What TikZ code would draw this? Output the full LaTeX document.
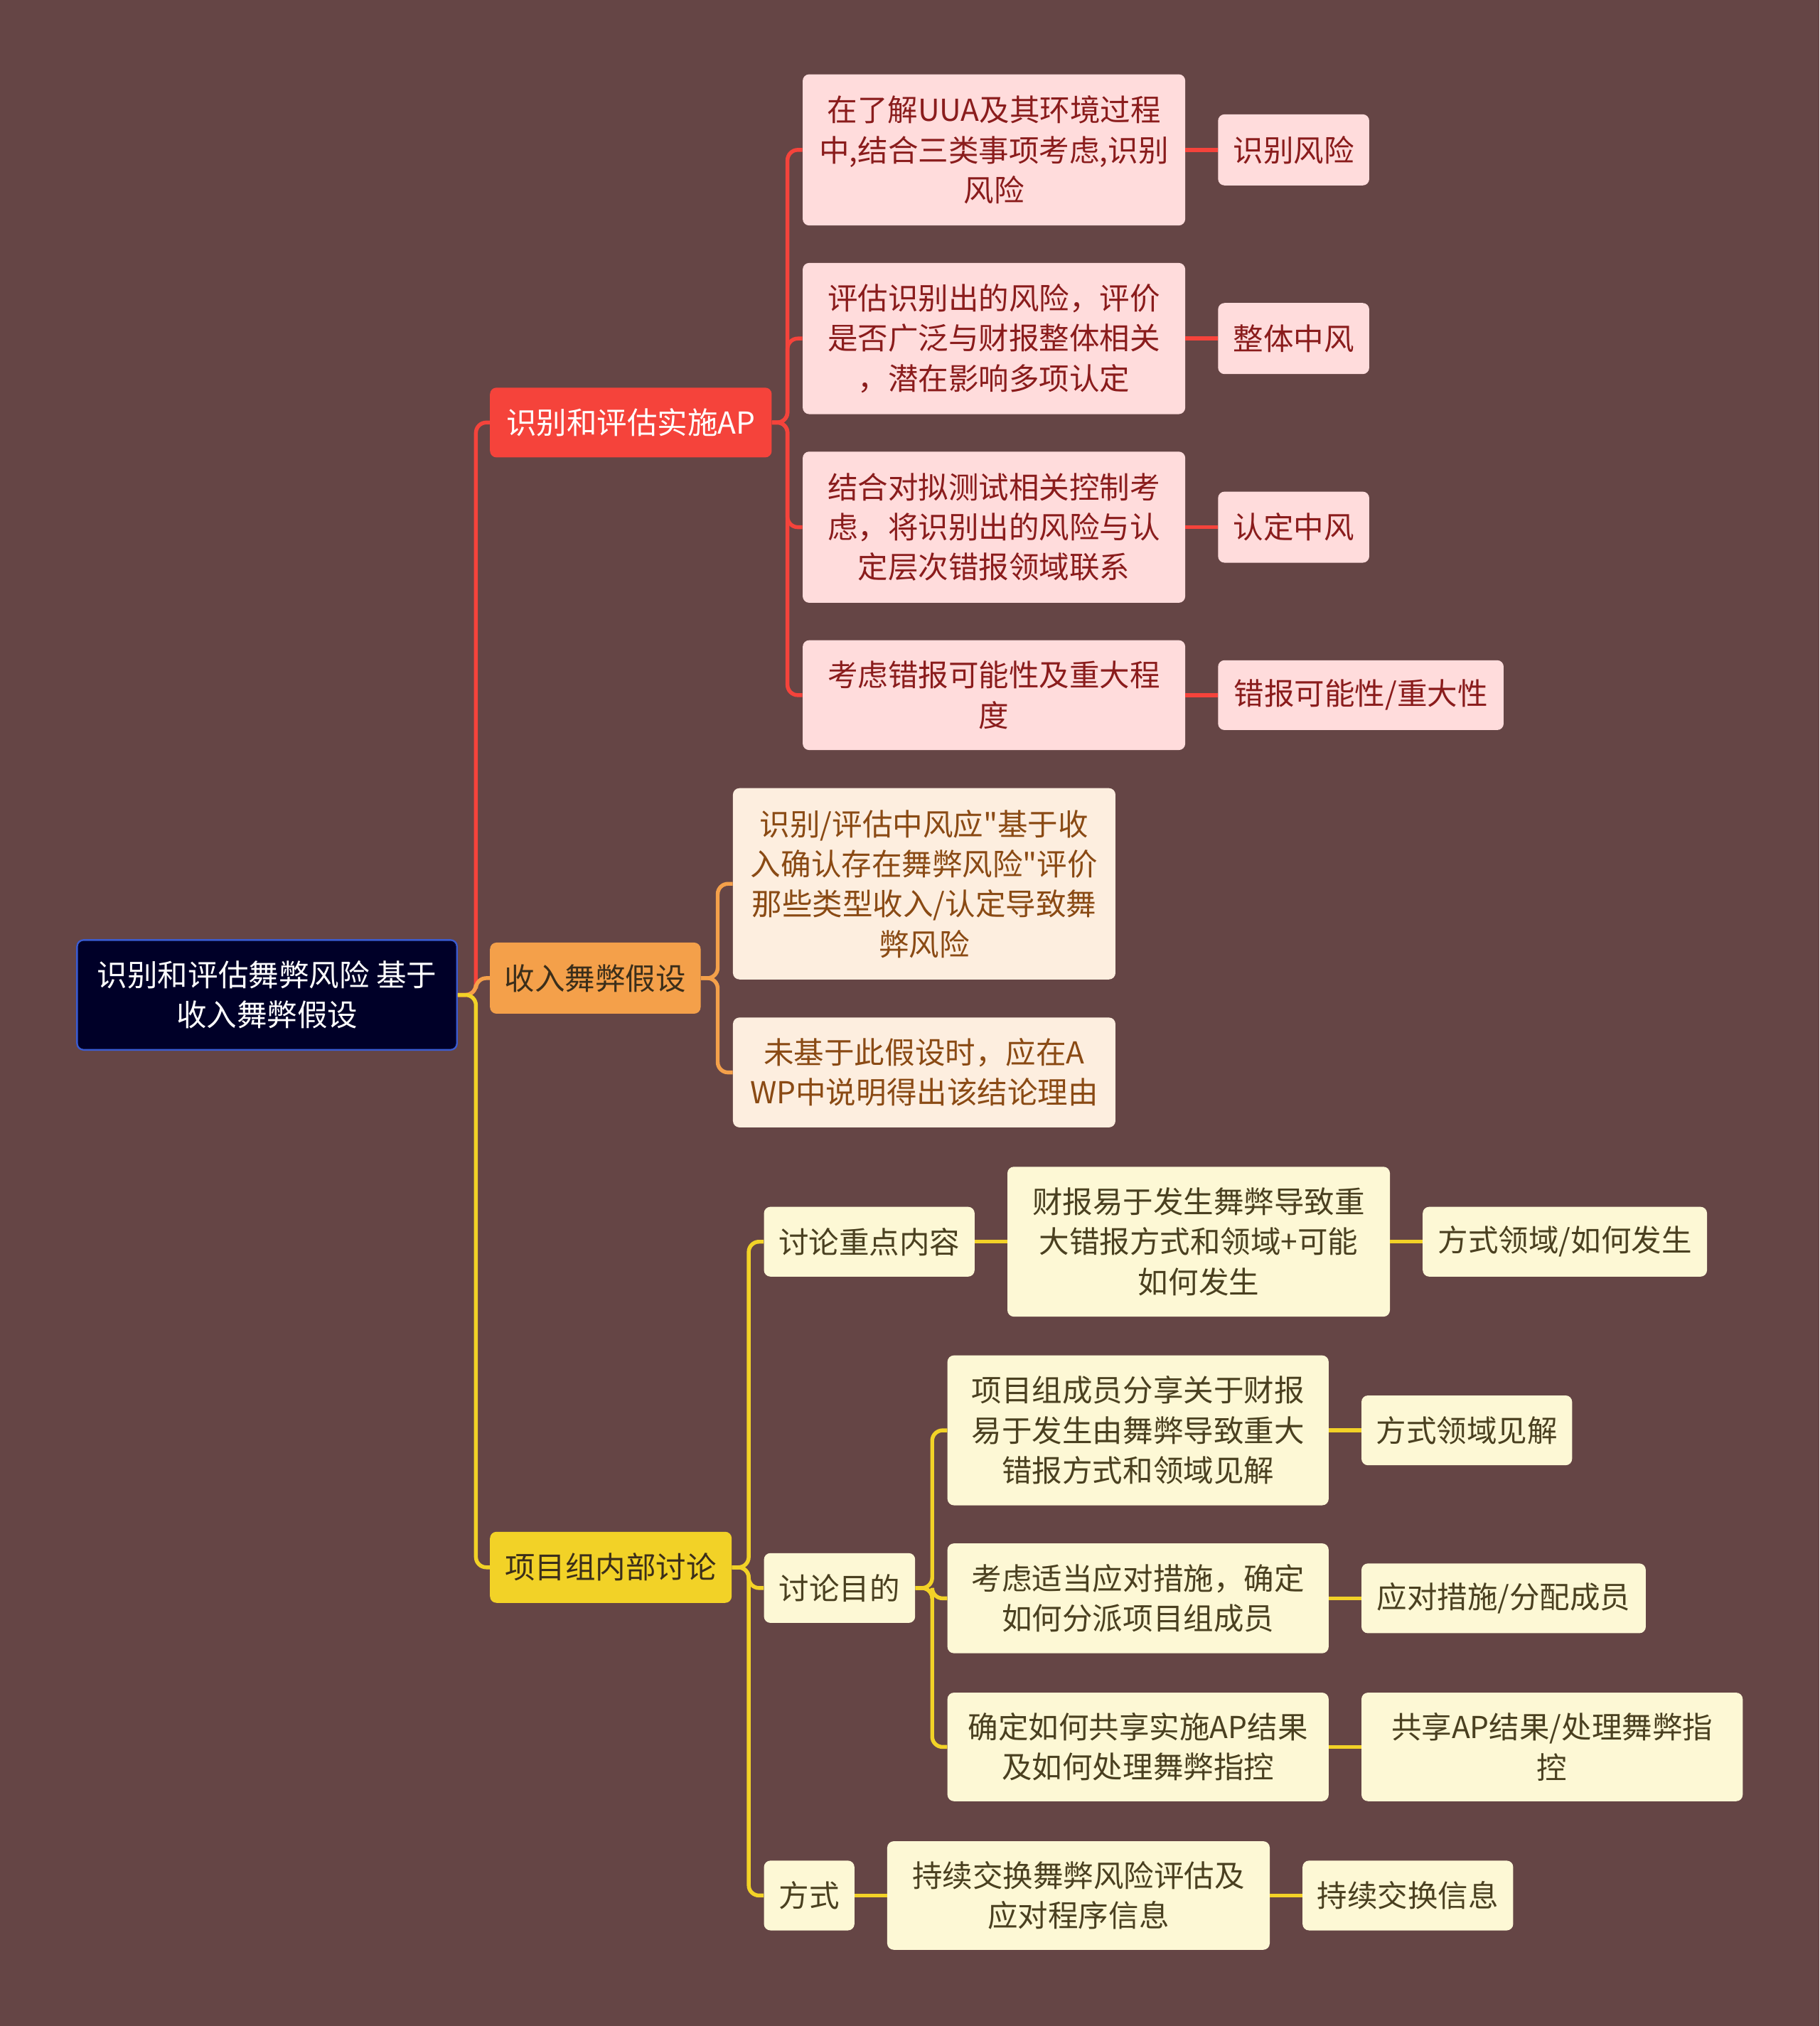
\documentclass[tikz,border=0pt]{standalone}
\usepackage{fontspec}
\setmainfont{Noto Sans CJK SC}
\newfontfamily\mapcjk{Noto Sans CJK SC}
\usetikzlibrary{positioning}
\definecolor{mmBg}{HTML}{654545}
\definecolor{mmRootFill}{HTML}{000028}
\definecolor{mmRootLine}{HTML}{3A5BD0}
\definecolor{mmRed}{HTML}{F5433B}
\definecolor{mmRedSoft}{HTML}{FFDCDC}
\definecolor{mmRedInk}{HTML}{8A1C1C}
\definecolor{mmOrange}{HTML}{F4A04A}
\definecolor{mmOrangeSoft}{HTML}{FDEEDF}
\definecolor{mmOrangeInk}{HTML}{8A4A14}
\definecolor{mmYellow}{HTML}{F2D227}
\definecolor{mmYellowSoft}{HTML}{FDF8D5}
\definecolor{mmYellowInk}{HTML}{4A4020}
\definecolor{mmDarkInk}{HTML}{3B2E1A}
\newcommand\mapfont{\mapcjk\fontsize{23.4pt}{31pt}\selectfont}
\tikzset{
  sz/.style 2 args={minimum width=#1pt, minimum height=#2pt},
  box/.style={rounded corners=5pt, align=center, inner sep=0pt, font=\mapfont},
  rootbox/.style={box, fill=mmRootFill, draw=mmRootLine, line width=1.3pt, text=white},
  brR/.style={box, fill=mmRed, text=white},
  brO/.style={box, fill=mmOrange, text=mmDarkInk},
  brY/.style={box, fill=mmYellow, text=mmDarkInk},
  subR/.style={box, fill=mmRedSoft, text=mmRedInk},
  subO/.style={box, fill=mmOrangeSoft, text=mmOrangeInk},
  subY/.style={box, fill=mmYellowSoft, text=mmYellowInk},
  lnk/.style={line width=3pt, rounded corners=8pt},
  lnR/.style={lnk, draw=mmRed},
  lnO/.style={lnk, draw=mmOrange},
  lnY/.style={lnk, draw=mmYellow},
}
\begin{document}
\begin{tikzpicture}[x=1pt,y=-1pt]
\fill[mmBg] (0,0) rectangle (1408,1568);
\useasboundingbox (0,0) rectangle (1408,1568);

% root and main branches
\node[rootbox, sz={294}{85}, anchor=west] (root) at (59,770) {识别和评估舞弊风险 基于\\收入舞弊假设};
\node[brR, sz={218}{54}, anchor=west] (ap) at (379,327) {识别和评估实施AP};
\node[brO, sz={163}{55}, anchor=west] (hyp) at (379,757) {收入舞弊假设};
\node[brY, sz={187}{55}, anchor=west] (talk) at (379,1213) {项目组内部讨论};

% red branch
\node[subR, sz={296}{117}, anchor=west] (apA) at (621,116) {在了解UUA及其环境过程\\中,结合三类事项考虑,识别\\风险};
\node[subR, sz={296}{117}, anchor=west] (apB) at (621,262) {评估识别出的风险，评价\\是否广泛与财报整体相关\\，潜在影响多项认定};
\node[subR, sz={296}{117}, anchor=west] (apC) at (621,408) {结合对拟测试相关控制考\\虑，将识别出的风险与认\\定层次错报领域联系};
\node[subR, sz={296}{85}, anchor=west] (apD) at (621,538) {考虑错报可能性及重大程\\度};
\node[subR, sz={117}{55}, right=25pt of apA] (apAk) {识别风险};
\node[subR, sz={117}{55}, right=25pt of apB] (apBk) {整体中风};
\node[subR, sz={117}{55}, right=25pt of apC] (apCk) {认定中风};
\node[subR, sz={221}{54}, right=25pt of apD] (apDk) {错报可能性/重大性};

% orange branch
\node[subO, sz={296}{148}, anchor=west] (hypA) at (567,684) {识别/评估中风应"基于收\\入确认存在舞弊风险"评价\\那些类型收入/认定导致舞\\弊风险};
\node[subO, sz={296}{85}, anchor=west] (hypB) at (567,830) {未基于此假设时，应在A\\WP中说明得出该结论理由};

% yellow branch
\node[subY, sz={163}{54}, anchor=west] (key) at (591,961) {讨论重点内容};
\node[subY, sz={296}{116}, right=25pt of key] (keyA) {财报易于发生舞弊导致重\\大错报方式和领域+可能\\如何发生};
\node[subY, sz={220}{54}, right=25pt of keyA] (keyB) {方式领域/如何发生};

\node[subY, sz={117}{54}, anchor=west] (aim) at (591,1229) {讨论目的};
\node[subY, sz={295}{116}, anchor=west] (aimA) at (733,1107) {项目组成员分享关于财报\\易于发生由舞弊导致重大\\错报方式和领域见解};
\node[subY, sz={295}{85}, anchor=west] (aimB) at (733,1237) {考虑适当应对措施，确定\\如何分派项目组成员};
\node[subY, sz={295}{84}, anchor=west] (aimC) at (733,1352) {确定如何共享实施AP结果\\及如何处理舞弊指控};
\node[subY, sz={163}{54}, right=25pt of aimA] (aimAk) {方式领域见解};
\node[subY, sz={220}{54}, right=25pt of aimB] (aimBk) {应对措施/分配成员};
\node[subY, sz={295}{84}, right=25pt of aimC] (aimCk) {共享AP结果/处理舞弊指\\控};

\node[subY, sz={70}{54}, anchor=west] (way) at (591,1467) {方式};
\node[subY, sz={296}{84}, right=25pt of way] (wayA) {持续交换舞弊风险评估及\\应对程序信息};
\node[subY, sz={163}{54}, right=25pt of wayA] (wayB) {持续交换信息};

% connectors
\draw[lnR] (root.east) -- ++(14,0) |- (ap.west);
\draw[lnO] (root.east) -- ++(14,0) |- (hyp.west);
\draw[lnY] (root.east) -- ++(14,0) |- (talk.west);
\foreach \c in {apA,apB,apC,apD}
  \draw[lnR] (ap.east) -- ++(12,0) |- (\c.west);
\foreach \c in {apA,apB,apC,apD}
  \draw[lnR] (\c.east) -- (\c k.west);
\foreach \c in {hypA,hypB}
  \draw[lnO] (hyp.east) -- ++(13,0) |- (\c.west);
\foreach \c in {key,aim,way}
  \draw[lnY] (talk.east) -- ++(13,0) |- (\c.west);
\foreach \c in {aimA,aimB,aimC}
  \draw[lnY] (aim.east) -- ++(13,0) |- (\c.west);
\foreach \c in {aimA,aimB,aimC}
  \draw[lnY] (\c.east) -- (\c k.west);
\draw[lnY] (key) -- (keyA) (keyA) -- (keyB);
\draw[lnY] (way) -- (wayA) (wayA) -- (wayB);
\end{tikzpicture}
\end{document}
